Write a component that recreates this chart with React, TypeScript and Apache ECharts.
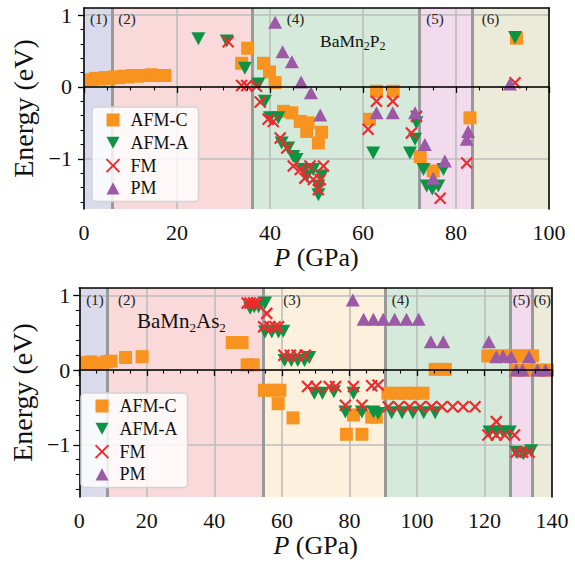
import React, { useEffect, useRef } from "react";
import * as echarts from "echarts";

// ---------------- Data: BaMn2P2 (top panel) ----------------
const p2AfmC: [number, number][] = [
  [1.5, 0.10], [2.5, 0.12], [3.5, 0.11], [4.5, 0.13], [5.5, 0.12], [6.5, 0.14], [7.5, 0.13], [8.5, 0.15],
  [9.5, 0.14], [10.5, 0.16], [11.5, 0.15], [12.5, 0.16], [13.5, 0.16], [14.5, 0.17], [15.5, 0.16], [16.5, 0.16],
  [17.4, 0.16],
  [33.9, 0.33], [35.2, 0.54], [38.6, 0.33], [39.9, 0.21], [41.1, 0.06], [42.9, -0.34], [44.7, -0.36],
  [46.5, -0.48], [48.2, -0.50], [47.9, -0.62], [51.1, -0.63], [50.4, -0.78],
  [61.4, -0.45], [62.9, -0.06], [66.5, -0.06], [72.3, -0.97], [75.1, -1.17], [83.0, -0.43], [93.0, 0.68],
];
const p2AfmA: [number, number][] = [
  [24.6, 0.67], [30.7, 0.64], [34.6, 0.26], [37.5, 0.04], [38.9, -0.20], [40.0, -0.43], [41.8, -0.43],
  [42.5, -0.78], [43.9, -0.85], [45.0, -0.97], [45.7, -1.01], [47.2, -1.15], [47.9, -1.24], [49.3, -1.15],
  [51.1, -1.24], [50.4, -1.38], [50.4, -1.50],
  [62.2, -0.92], [70.1, -0.92], [71.2, -0.73], [71.5, -0.50], [73.0, -1.15], [73.7, -1.38], [74.9, -1.42],
  [76.2, -1.38], [77.3, -1.15], [92.7, 0.69],
];
const p2Fm: [number, number][] = [
  [31.0, 0.63], [33.9, 0.02], [35.0, 0.02], [37.1, 0.01], [37.9, -0.21], [39.6, -0.45], [40.7, -0.48],
  [42.2, -0.71], [43.6, -0.85], [45.0, -1.10], [46.5, -1.15], [47.5, -1.27], [48.6, -1.10], [49.3, -1.29],
  [50.8, -1.29], [51.5, -1.10], [50.4, -1.43],
  [61.1, -0.59], [62.9, -0.20], [66.4, -0.20], [70.4, -0.64], [71.5, -0.41], [76.6, -1.55], [82.3, -1.06],
  [92.7, 0.06],
];
const p2Pm: [number, number][] = [
  [41.1, 0.90], [42.7, 0.49], [44.7, 0.35], [46.7, 0.07], [48.8, -0.08], [50.8, -0.39], [62.9, -0.36],
  [66.4, -0.36], [71.2, -0.36], [73.3, -0.80], [75.1, -1.27], [77.6, -1.03], [82.3, -0.73], [82.6, -0.62],
  [91.6, 0.04],
];
const p2Regions = [
  { label: "(1)", from: 0, to: 6.1 },
  { label: "(2)", from: 6.1, to: 36.1 },
  { label: "(4)", from: 36.1, to: 72.1 },
  { label: "(5)", from: 72.1, to: 83.6 },
  { label: "(6)", from: 83.6, to: 100 },
];

// ---------------- Data: BaMn2As2 (bottom panel) ----------------
const as2AfmC: [number, number][] = [
  [2.0, 0.10], [3.5, 0.11], [5.0, 0.08], [6.5, 0.09], [8.0, 0.11], [9.4, 0.12], [13.7, 0.17], [18.6, 0.18],
  [45.3, 0.37], [48.2, 0.37], [49.7, 0.07], [51.5, 0.07], [54.8, -0.27], [57.4, -0.27], [59.4, -0.27],
  [58.9, -0.45], [63.3, -0.64],
  [79.1, -0.86], [83.7, -0.86], [81.2, -0.60], [86.6, -0.63], [88.0, -0.63],
  [91.4, -0.31], [94.0, -0.31], [96.6, -0.31], [99.2, -0.31], [101.8, -0.31],
  [105.4, 0.01], [108.4, 0.01],
  [121.0, 0.19], [123.2, 0.19], [125.4, 0.19], [127.6, 0.19], [129.8, 0.19], [132.0, 0.19], [134.2, 0.19],
  [129.6, 0.0], [132.0, 0.0], [136.2, 0.0], [138.6, 0.0],
];
const as2AfmA: [number, number][] = [
  [50.6, 0.83], [51.8, 0.85], [53.1, 0.85], [55.0, 0.90], [55.0, 0.51], [57.0, 0.51], [59.0, 0.51],
  [60.4, 0.52], [60.8, 0.13], [62.8, 0.13], [64.7, 0.13], [66.7, 0.13], [68.1, 0.17],
  [69.6, -0.31], [72.0, -0.31], [75.4, -0.29], [81.2, -0.31], [78.8, -0.56], [83.7, -0.56], [87.1, -0.56],
  [88.5, -0.58],
  [92.5, -0.57], [95.6, -0.57], [98.8, -0.57], [102.0, -0.57], [105.4, -0.57],
  [121.5, -0.83], [123.6, -0.83], [125.5, -0.83], [127.5, -0.83], [129.4, -1.10], [131.5, -1.12], [133.8, -1.08],
];
const as2Fm: [number, number][] = [
  [49.7, 0.90], [50.6, 0.90], [51.6, 0.90], [52.6, 0.90], [55.5, 0.76], [54.6, 0.58], [56.5, 0.58],
  [58.0, 0.58], [59.0, 0.58], [60.6, 0.20], [62.5, 0.20], [64.5, 0.20], [66.9, 0.20],
  [67.6, -0.22], [70.1, -0.22], [74.0, -0.22], [75.9, -0.22], [81.2, -0.22], [86.6, -0.21], [88.5, -0.20],
  [78.8, -0.47], [83.7, -0.47],
  [91.5, -0.49], [94.6, -0.49], [97.8, -0.49], [101.0, -0.49], [104.3, -0.49], [107.4, -0.49], [110.6, -0.49],
  [113.7, -0.49], [117.2, -0.49],
  [123.5, -0.69], [121.0, -0.87], [123.5, -0.87], [126.0, -0.87], [128.9, -0.87], [129.4, -1.10],
  [131.3, -1.10], [133.2, -1.10],
];
const as2Pm: [number, number][] = [
  [81.0, 0.94], [84.2, 0.68], [87.1, 0.68], [90.0, 0.68], [93.4, 0.68], [96.9, 0.68], [100.5, 0.68],
  [104.1, 0.38], [107.8, 0.38], [121.3, 0.38], [123.5, 0.18], [125.5, 0.19], [127.9, 0.18], [133.2, 0.18],
  [129.4, 0.0], [131.3, 0.0], [135.7, 0.0], [138.1, 0.0],
];
const as2Regions = [
  { label: "(1)", from: 0, to: 8.2 },
  { label: "(2)", from: 8.2, to: 54.5 },
  { label: "(3)", from: 54.5, to: 90.5 },
  { label: "(4)", from: 90.5, to: 127.5 },
  { label: "(5)", from: 127.5, to: 134.2 },
  { label: "(6)", from: 134.2, to: 140 },
];

// ---------------- Axes ticks ----------------
const seriesNames = ["AFM-C", "AFM-A", "FM", "PM"];
const energyMajor = [-1, 0, 1];
const energyMinor = [-1.6, -1.4, -1.2, -0.8, -0.6, -0.4, -0.2, 0.2, 0.4, 0.6, 0.8];
const energyRange = [-1.7, 1.1];
const xGridTop = [20, 40, 60, 80];
const xGridBottom = [20, 40, 60, 80, 100, 120];

// ---------------- Styles ----------------
const FONT = "Liberation Serif";
const COLORS: Record<string, string> = {
  "AFM-C": "#F7931E",
  "AFM-A": "#0B9444",
  FM: "#EE2A2E",
  PM: "#9B59A6",
};
const REGION_FILL: Record<string, string> = {
  "(1)": "#D9DBEC",
  "(2)": "#F9D9DA",
  "(3)": "#FDF0DC",
  "(4)": "#D5EADA",
  "(5)": "#F1DBEC",
  "(6)": "#ECEBDA",
};

const panels = [
  {
    grid: { left: 84, top: 8, width: 465, height: 201 },
    xMax: 100,
    xGrid: xGridTop,
    data: [p2AfmC, p2AfmA, p2Fm, p2Pm],
    regions: p2Regions,
    labelOffsets: [6, 6, 35, 7, 9],
    labelY: 19,
    legend: { left: 92, top: 107 },
    yLabelMargin: 12,
    yNameGap: 46,
    title: { main: ["BaMn", "P"], x: 320, y: 41, size: 17.5, sub: 12 },
  },
  {
    grid: { left: 73, top: 288, width: 479, height: 209 },
    xMax: 140,
    xGrid: xGridBottom,
    data: [as2AfmC, as2AfmA, as2Fm, as2Pm],
    regions: as2Regions,
    labelOffsets: [7, 11, 20, 7, 3, 1],
    labelY: 300,
    legend: { left: 81, top: 393 },
    yLabelMargin: 9,
    yNameGap: 40,
    title: { main: ["BaMn", "As"], x: 137, y: 321, size: 21, sub: 13 },
  },
];

const symbolFor: Record<string, any> = {
  "AFM-C": { symbol: "rect", symbolSize: 13 },
  "AFM-A": { symbol: "path://M0,0 L14,0 L7,13 Z", symbolSize: [14, 13] },
  FM: { symbol: "path://M0,0 L10,10 M10,0 L0,10", symbolSize: 11 },
  PM: { symbol: "path://M7,0 L14,13 L0,13 Z", symbolSize: [14, 13] },
};

function fmtEnergy(v: number) {
  return v < 0 ? "\u2212" + Math.abs(v) : String(v);
}

function buildOption() {
  const grid: any[] = [];
  const xAxis: any[] = [];
  const yAxis: any[] = [];
  const series: any[] = [];
  const legend: any[] = [];

  panels.forEach((p, i) => {
    grid.push({ ...p.grid, containLabel: false });
    const xi = i * 2;
    const yi = i * 3;
    xAxis.push({
      type: "value",
      gridIndex: i,
      min: 0,
      max: p.xMax,
      interval: 20,
      z: 6,
      axisLine: { show: true, lineStyle: { color: "#000", width: 1.6 } },
      axisTick: { show: true, length: 6, lineStyle: { color: "#000", width: 1.3 } },
      minorTick: { show: true, splitNumber: 4, length: 3.5, lineStyle: { color: "#000", width: 1.1 } },
      splitLine: { show: false },
      minorSplitLine: { show: false },
      axisLabel: { fontFamily: FONT, fontSize: 22, color: "#111", margin: 12 },
      name: "{i|P} (GPa)",
      nameLocation: "middle",
      nameGap: 35,
      nameTextStyle: {
        fontFamily: FONT,
        fontSize: 26,
        color: "#111",
        rich: { i: { fontFamily: FONT, fontSize: 26, fontStyle: "italic", color: "#111" } },
      },
    });
    xAxis.push({
      type: "value",
      gridIndex: i,
      position: "top",
      min: 0,
      max: p.xMax,
      z: 6,
      axisLine: { show: true, onZero: false, lineStyle: { color: "#000", width: 1.6 } },
      axisTick: { show: false },
      axisLabel: { show: false },
      splitLine: { show: false },
    });
    yAxis.push({
      type: "value",
      gridIndex: i,
      min: energyRange[0],
      max: energyRange[1],
      z: 6,
      axisLine: { show: true, onZero: false, lineStyle: { color: "#000", width: 1.6 } },
      axisTick: { show: true, length: 6, customValues: energyMajor, lineStyle: { color: "#000", width: 1.3 } },
      axisLabel: {
        customValues: energyMajor,
        formatter: fmtEnergy,
        fontFamily: FONT,
        fontSize: 22,
        color: "#111",
        margin: p.yLabelMargin,
      },
      splitLine: { show: false },
      name: "Energy (eV)",
      nameLocation: "middle",
      nameGap: p.yNameGap,
      nameTextStyle: { fontFamily: FONT, fontSize: 28, color: "#111" },
    });
    yAxis.push({
      type: "value",
      gridIndex: i,
      position: "right",
      min: energyRange[0],
      max: energyRange[1],
      z: 6,
      axisLine: { show: true, onZero: false, lineStyle: { color: "#000", width: 1.6 } },
      axisTick: { show: false },
      axisLabel: { show: false },
      splitLine: { show: false },
    });
    yAxis.push({
      type: "value",
      gridIndex: i,
      position: "left",
      min: energyRange[0],
      max: energyRange[1],
      z: 6,
      axisLine: { show: false },
      axisTick: { show: true, length: 3.5, customValues: energyMinor, lineStyle: { color: "#000", width: 1.1 } },
      axisLabel: { show: false },
      splitLine: { show: false },
    });

    series.push({
      type: "line",
      name: "bg" + i,
      xAxisIndex: xi,
      yAxisIndex: yi,
      data: [],
      silent: true,
      markArea: {
        silent: true,
        z: 1,
        data: p.regions.map((r) => [
          { xAxis: r.from, itemStyle: { color: REGION_FILL[r.label], opacity: 1 } },
          { xAxis: r.to },
        ]),
      },
    });
    series.push({
      type: "line",
      name: "grid" + i,
      xAxisIndex: xi,
      yAxisIndex: yi,
      data: [],
      silent: true,
      markLine: {
        silent: true,
        z: 2,
        symbol: ["none", "none"],
        label: { show: false },
        lineStyle: { color: "#BDBDBD", width: 1.6, type: "solid" },
        emphasis: { disabled: true },
        data: [...p.xGrid.map((v) => ({ xAxis: v })), ...energyMajor.map((v) => ({ yAxis: v }))],
      },
    });
    series.push({
      type: "line",
      name: "bound" + i,
      xAxisIndex: xi,
      yAxisIndex: yi,
      data: [],
      silent: true,
      markLine: {
        silent: true,
        z: 3,
        symbol: ["none", "none"],
        label: { show: false },
        lineStyle: { color: "#999999", width: 3, type: "solid" },
        emphasis: { disabled: true },
        data: p.regions.slice(0, -1).map((r) => ({ xAxis: r.to })),
      },
    });
    seriesNames.forEach((name, k) => {
      const isX = name === "FM";
      series.push({
        type: "scatter",
        name,
        xAxisIndex: xi,
        yAxisIndex: yi,
        z: 4 + k * 0.1,
        data: p.data[k],
        ...symbolFor[name],
        itemStyle: isX
          ? { color: "rgba(0,0,0,0)", borderColor: COLORS[name], borderWidth: 2.2, opacity: 1 }
          : { color: COLORS[name], opacity: 1 },
        emphasis: { disabled: true },
      });
    });

    legend.push({
      show: true,
      orient: "vertical",
      left: p.legend.left,
      top: p.legend.top,
      data: seriesNames,
      itemWidth: 13,
      itemHeight: 13,
      itemGap: 2.8,
      padding: [3, 10, 3, 13.5],
      backgroundColor: "rgba(255,255,255,0.82)",
      borderColor: "#D3D3D3",
      borderWidth: 1.5,
      borderRadius: 4,
      selectedMode: false,
      z: 8,
      textStyle: { fontFamily: FONT, fontSize: 18, color: "#111", lineHeight: 20, padding: [0, 0, 0, 6] },
    });
  });

  return {
    animation: false,
    backgroundColor: "#ffffff",
    grid,
    xAxis,
    yAxis,
    series,
    legend,
  };
}

function buildGraphic(chart: echarts.ECharts) {
  const elements: any[] = [];
  panels.forEach((p, i) => {
    p.regions.forEach((r, k) => {
      const px = chart.convertToPixel({ xAxisIndex: i * 2 }, r.from) as number;
      const off = p.labelOffsets[k];
      elements.push({
        type: "text",
        x: px + off,
        y: p.labelY,
        z: 5,
        silent: true,
        style: {
          text: r.label,
          fontFamily: FONT,
          fontSize: 15,
          fill: "#222",
          align: "left",
          verticalAlign: "middle",
        },
      });
    });
    const t = p.title;
    elements.push({
      type: "text",
      x: t.x,
      y: t.y,
      z: 5,
      silent: true,
      style: {
        text: `{a|${t.main[0]}}{s|2}{a|${t.main[1]}}{s|2}`,
        align: "left",
        verticalAlign: "middle",
        rich: {
          a: { fontFamily: FONT, fontSize: t.size, fill: "#111", color: "#111" },
          s: { fontFamily: FONT, fontSize: t.sub, fill: "#111", color: "#111", verticalAlign: "bottom", padding: [0, 0, -2, 0] },
        },
      },
    });
  });
  return elements;
}

export default function App() {
  const ref = useRef<HTMLDivElement>(null);
  useEffect(() => {
    if (!ref.current) return;
    const chart = echarts.init(ref.current, null, { renderer: "svg" });
    chart.setOption(buildOption() as any);
    chart.setOption({ graphic: buildGraphic(chart) } as any);
    return () => chart.dispose();
  }, []);
  return (
    <div
      ref={ref}
      style={{ position: "absolute", left: 0, top: 0, width: 575, height: 564, background: "#fff" }}
    />
  );
}
